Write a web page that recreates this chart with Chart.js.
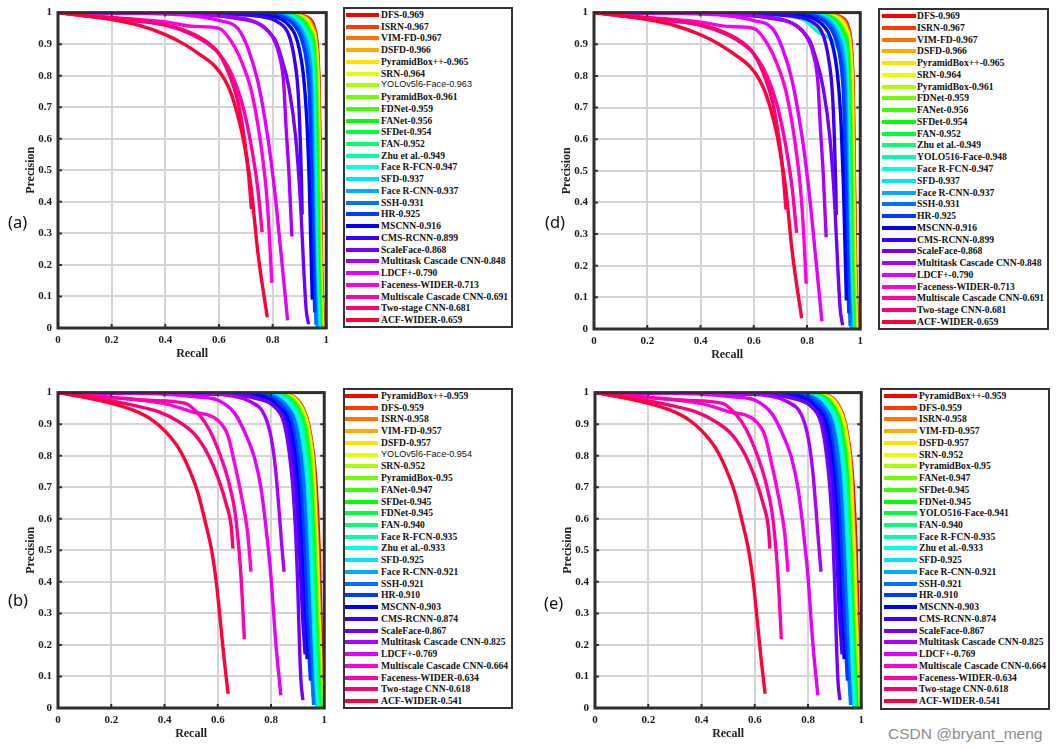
<!DOCTYPE html>
<html>
<head>
<meta charset="utf-8">
<script src="https://cdn.jsdelivr.net/npm/chart.js@4.4.0/dist/chart.umd.min.js"></script>
<style>
  body { margin: 0; background: #fff; width: 1060px; height: 749px; position: relative; overflow: hidden; }
  canvas { position: absolute; }
  .legend { position: absolute; box-sizing: border-box; border: 2.5px solid #333; background: #fff; }
  .sw { position: absolute; height: 4px; }
  .txt { position: absolute; height: 12px; line-height: 12px; white-space: nowrap; font: bold 9.6px "Liberation Serif", serif; color: #111; }
  .txt.sans { font: 9.1px "Liberation Sans", sans-serif; }
  .lab { position: absolute; font: 16.5px "Noto Sans", sans-serif; color: #111; line-height: 20px; }
  .mark { position: absolute; font: 15.5px "Liberation Sans", sans-serif; color: #8c8c8c; line-height: 18px; }
</style>
</head>
<body>
<canvas id="chartA" width="335" height="365" style="left:0px;top:0px"></canvas>
<canvas id="chartD" width="333" height="366" style="left:536px;top:0px"></canvas>
<canvas id="chartB" width="333" height="365" style="left:0px;top:380px"></canvas>
<canvas id="chartE" width="333" height="365" style="left:537px;top:380px"></canvas>
<div class="lab" style="left:8px;top:212px">(a)</div>
<div class="lab" style="left:545px;top:212px">(d)</div>
<div class="lab" style="left:8px;top:590px">(b)</div>
<div class="lab" style="left:544px;top:593px">(e)</div>
<div class="mark" style="left:888px;top:725px">CSDN @bryant_meng</div>
<script>
// tick labels
const xTickLabels = ['0', '0.2', '0.4', '0.6', '0.8', '1'];
const yTickLabels = ['0', '0.1', '0.2', '0.3', '0.4', '0.5', '0.6', '0.7', '0.8', '0.9', '1'];

// legend order + AP for each panel
const namesA = ['DFS', 'ISRN', 'VIM-FD', 'DSFD', 'PyramidBox++', 'SRN', 'YOLOv5l6-Face', 'PyramidBox', 'FDNet', 'FANet', 'SFDet', 'FAN', 'Zhu et al.', 'Face R-FCN', 'SFD', 'Face R-CNN', 'SSH', 'HR', 'MSCNN', 'CMS-RCNN', 'ScaleFace', 'Multitask Cascade CNN', 'LDCF+', 'Faceness-WIDER', 'Multiscale Cascade CNN', 'Two-stage CNN', 'ACF-WIDER'];
const apA = ['0.969', '0.967', '0.967', '0.966', '0.965', '0.964', '0.963', '0.961', '0.959', '0.956', '0.954', '0.952', '0.949', '0.947', '0.937', '0.937', '0.931', '0.925', '0.916', '0.899', '0.868', '0.848', '0.790', '0.713', '0.691', '0.681', '0.659'];

const namesD = ['DFS', 'ISRN', 'VIM-FD', 'DSFD', 'PyramidBox++', 'SRN', 'PyramidBox', 'FDNet', 'FANet', 'SFDet', 'FAN', 'Zhu et al.', 'YOLO516-Face', 'Face R-FCN', 'SFD', 'Face R-CNN', 'SSH', 'HR', 'MSCNN', 'CMS-RCNN', 'ScaleFace', 'Multitask Cascade CNN', 'LDCF+', 'Faceness-WIDER', 'Multiscale Cascade CNN', 'Two-stage CNN', 'ACF-WIDER'];
const apD = ['0.969', '0.967', '0.967', '0.966', '0.965', '0.964', '0.961', '0.959', '0.956', '0.954', '0.952', '0.949', '0.948', '0.947', '0.937', '0.937', '0.931', '0.925', '0.916', '0.899', '0.868', '0.848', '0.790', '0.713', '0.691', '0.681', '0.659'];

const namesB = ['PyramidBox++', 'DFS', 'ISRN', 'VIM-FD', 'DSFD', 'YOLOv5l6-Face', 'SRN', 'PyramidBox', 'FANet', 'SFDet', 'FDNet', 'FAN', 'Face R-FCN', 'Zhu et al.', 'SFD', 'Face R-CNN', 'SSH', 'HR', 'MSCNN', 'CMS-RCNN', 'ScaleFace', 'Multitask Cascade CNN', 'LDCF+', 'Multiscale Cascade CNN', 'Faceness-WIDER', 'Two-stage CNN', 'ACF-WIDER'];
const apB = ['0.959', '0.959', '0.958', '0.957', '0.957', '0.954', '0.952', '0.95', '0.947', '0.945', '0.945', '0.940', '0.935', '0.933', '0.925', '0.921', '0.921', '0.910', '0.903', '0.874', '0.867', '0.825', '0.769', '0.664', '0.634', '0.618', '0.541'];

const namesE = ['PyramidBox++', 'DFS', 'ISRN', 'VIM-FD', 'DSFD', 'SRN', 'PyramidBox', 'FANet', 'SFDet', 'FDNet', 'YOLO516-Face', 'FAN', 'Face R-FCN', 'Zhu et al.', 'SFD', 'Face R-CNN', 'SSH', 'HR', 'MSCNN', 'CMS-RCNN', 'ScaleFace', 'Multitask Cascade CNN', 'LDCF+', 'Multiscale Cascade CNN', 'Faceness-WIDER', 'Two-stage CNN', 'ACF-WIDER'];
const apE = ['0.959', '0.959', '0.958', '0.957', '0.957', '0.952', '0.95', '0.947', '0.945', '0.945', '0.941', '0.940', '0.935', '0.933', '0.925', '0.921', '0.921', '0.910', '0.903', '0.874', '0.867', '0.825', '0.769', '0.664', '0.634', '0.618', '0.541'];

// PR curves, [recall, precision]
// (a) and (d) use the easy-set curves, (b) and (e) the medium-set ones
const easyCurves = {
  'DFS': [[0,1],[0.85,0.997],[0.93,0.985],[0.955,0.955],[0.966,0.9],[0.974,0.75],[0.978,0.5],[0.983,0.2],[0.99,0]],
  'ISRN': [[0,1],[0.85,0.996],[0.928,0.984],[0.953,0.953],[0.965,0.9],[0.973,0.75],[0.977,0.5],[0.982,0.2],[0.989,0]],
  'VIM-FD': [[0,1],[0.85,0.996],[0.926,0.983],[0.951,0.951],[0.963,0.9],[0.972,0.75],[0.976,0.5],[0.981,0.2],[0.988,0]],
  'DSFD': [[0,1],[0.85,0.996],[0.924,0.982],[0.95,0.95],[0.962,0.9],[0.971,0.75],[0.975,0.5],[0.98,0.2],[0.987,0]],
  'PyramidBox++': [[0,1],[0.85,0.996],[0.922,0.981],[0.948,0.948],[0.961,0.9],[0.97,0.75],[0.974,0.5],[0.979,0.2],[0.986,0]],
  'SRN': [[0,1],[0.84,0.996],[0.92,0.98],[0.946,0.946],[0.96,0.9],[0.969,0.75],[0.973,0.5],[0.978,0.2],[0.985,0]],
  'YOLOv5l6-Face': [[0,1],[0.84,0.996],[0.918,0.979],[0.944,0.944],[0.958,0.9],[0.967,0.75],[0.972,0.5],[0.977,0.2],[0.984,0]],
  'YOLO516-Face': [[0,1],[0.6,0.998],[0.72,0.99],[0.79,0.976],[0.847,0.935],[0.884,0.92],[0.915,0.89],[0.935,0.84],[0.948,0.72],[0.955,0.5],[0.961,0.2],[0.97,0]],
  'PyramidBox': [[0,1],[0.84,0.995],[0.915,0.978],[0.942,0.942],[0.956,0.9],[0.965,0.75],[0.97,0.5],[0.975,0.2],[0.982,0]],
  'FDNet': [[0,1],[0.83,0.995],[0.912,0.977],[0.94,0.94],[0.954,0.9],[0.963,0.75],[0.968,0.5],[0.973,0.2],[0.98,0]],
  'FANet': [[0,1],[0.83,0.995],[0.91,0.976],[0.938,0.938],[0.952,0.9],[0.961,0.75],[0.966,0.5],[0.971,0.2],[0.978,0]],
  'SFDet': [[0,1],[0.82,0.995],[0.907,0.975],[0.936,0.936],[0.95,0.9],[0.959,0.75],[0.964,0.5],[0.969,0.2],[0.976,0]],
  'FAN': [[0,1],[0.82,0.995],[0.905,0.974],[0.934,0.934],[0.948,0.9],[0.957,0.75],[0.962,0.5],[0.967,0.2],[0.975,0]],
  'Zhu et al.': [[0,1],[0.81,0.994],[0.9,0.972],[0.93,0.93],[0.945,0.88],[0.954,0.75],[0.959,0.5],[0.965,0.2],[0.973,0]],
  'Face R-FCN': [[0,1],[0.81,0.994],[0.898,0.97],[0.928,0.928],[0.943,0.88],[0.952,0.75],[0.957,0.5],[0.963,0.2],[0.972,0]],
  'SFD': [[0,1],[0.8,0.994],[0.893,0.968],[0.924,0.924],[0.94,0.87],[0.949,0.75],[0.954,0.5],[0.96,0.2],[0.97,0]],
  'Face R-CNN': [[0,1],[0.8,0.993],[0.89,0.966],[0.92,0.92],[0.937,0.86],[0.946,0.75],[0.951,0.5],[0.957,0.2],[0.966,0]],
  'SSH': [[0,1],[0.79,0.993],[0.885,0.963],[0.915,0.915],[0.932,0.85],[0.942,0.75],[0.948,0.5],[0.955,0.2],[0.962,0.01]],
  'HR': [[0,1],[0.78,0.992],[0.88,0.96],[0.91,0.91],[0.927,0.84],[0.938,0.72],[0.945,0.5],[0.951,0.25],[0.957,0.049]],
  'MSCNN': [[0,1],[0.75,0.992],[0.86,0.96],[0.895,0.9],[0.915,0.8],[0.928,0.65],[0.937,0.45],[0.943,0.25],[0.948,0.09]],
  'CMS-RCNN': [[0,1],[0.6,0.996],[0.75,0.988],[0.82,0.97],[0.86,0.93],[0.88,0.86],[0.895,0.75],[0.903,0.6],[0.908,0.45],[0.91,0.36]],
  'ScaleFace': [[0,1],[0.4,0.998],[0.647,0.984],[0.807,0.917],[0.83,0.865],[0.861,0.761],[0.886,0.605],[0.904,0.398],[0.916,0.19],[0.925,0.06],[0.934,0.012]],
  'Multitask Cascade CNN': [[0,1],[0.4,0.998],[0.6,0.99],[0.72,0.975],[0.78,0.945],[0.81,0.905],[0.825,0.865],[0.841,0.78],[0.85,0.64],[0.861,0.49],[0.867,0.38],[0.872,0.29]],
  'LDCF+': [[0,1],[0.3,0.998],[0.5,0.99],[0.6,0.975],[0.672,0.948],[0.708,0.887],[0.745,0.782],[0.782,0.605],[0.807,0.44],[0.832,0.232],[0.856,0.024]],
  'Faceness-WIDER': [[0,1],[0.2,0.985],[0.4,0.97],[0.51,0.956],[0.6,0.95],[0.647,0.907],[0.684,0.845],[0.721,0.751],[0.752,0.607],[0.776,0.44],[0.788,0.295],[0.797,0.143]],
  'Multiscale Cascade CNN': [[0,1],[0.2,0.98],[0.4,0.96],[0.5,0.93],[0.56,0.9],[0.6,0.87],[0.65,0.8],[0.69,0.7],[0.72,0.58],[0.745,0.44],[0.761,0.304]],
  'Two-stage CNN': [[0,1],[0.1,0.99],[0.3,0.975],[0.45,0.95],[0.55,0.91],[0.6,0.87],[0.64,0.8],[0.67,0.72],[0.695,0.6],[0.71,0.49],[0.721,0.377]],
  'ACF-WIDER': [[0,1],[0.1,0.99],[0.2,0.978],[0.3,0.96],[0.4,0.93],[0.47,0.9],[0.524,0.87],[0.585,0.83],[0.62,0.79],[0.647,0.74],[0.684,0.626],[0.705,0.53],[0.721,0.438],[0.745,0.24],[0.78,0.034]]
};

const mediumCurves = {
  'PyramidBox++': [[0,1],[0.755,0.997],[0.875,0.99],[0.921,0.95],[0.941,0.9],[0.96,0.8],[0.97,0.7],[0.981,0.5],[0.987,0.3],[0.993,0.1],[0.998,0]],
  'DFS': [[0,1],[0.754,0.997],[0.874,0.99],[0.92,0.95],[0.94,0.9],[0.958,0.8],[0.966,0.7],[0.976,0.5],[0.983,0.3],[0.991,0.1],[0.998,0]],
  'ISRN': [[0,1],[0.752,0.997],[0.872,0.99],[0.919,0.95],[0.939,0.9],[0.957,0.8],[0.965,0.7],[0.975,0.5],[0.982,0.3],[0.99,0.1],[0.997,0]],
  'VIM-FD': [[0,1],[0.75,0.997],[0.87,0.99],[0.917,0.95],[0.938,0.9],[0.956,0.8],[0.964,0.7],[0.974,0.5],[0.981,0.3],[0.989,0.1],[0.996,0]],
  'DSFD': [[0,1],[0.749,0.997],[0.869,0.99],[0.916,0.95],[0.937,0.9],[0.955,0.8],[0.963,0.7],[0.973,0.5],[0.98,0.3],[0.988,0.1],[0.995,0]],
  'YOLOv5l6-Face': [[0,1],[0.745,0.997],[0.865,0.99],[0.913,0.95],[0.934,0.9],[0.952,0.8],[0.961,0.7],[0.971,0.5],[0.978,0.3],[0.986,0.1],[0.993,0]],
  'SRN': [[0,1],[0.741,0.997],[0.861,0.99],[0.91,0.95],[0.932,0.9],[0.95,0.8],[0.958,0.7],[0.969,0.5],[0.976,0.3],[0.985,0.1],[0.991,0]],
  'PyramidBox': [[0,1],[0.737,0.997],[0.857,0.99],[0.907,0.95],[0.929,0.9],[0.948,0.8],[0.956,0.7],[0.967,0.5],[0.974,0.3],[0.983,0.1],[0.989,0]],
  'FANet': [[0,1],[0.731,0.997],[0.851,0.99],[0.903,0.95],[0.925,0.9],[0.944,0.8],[0.953,0.7],[0.963,0.5],[0.971,0.3],[0.98,0.1],[0.986,0]],
  'SFDet': [[0,1],[0.727,0.997],[0.847,0.99],[0.9,0.95],[0.923,0.9],[0.941,0.8],[0.95,0.7],[0.961,0.5],[0.969,0.3],[0.978,0.1],[0.984,0]],
  'FDNet': [[0,1],[0.726,0.997],[0.846,0.99],[0.899,0.95],[0.922,0.9],[0.94,0.8],[0.949,0.7],[0.96,0.5],[0.968,0.3],[0.977,0.1],[0.983,0]],
  'YOLO516-Face': [[0,1],[0.62,0.997],[0.74,0.985],[0.8,0.965],[0.85,0.945],[0.895,0.9],[0.925,0.8],[0.941,0.7],[0.955,0.5],[0.964,0.3],[0.973,0.1],[0.98,0]],
  'FAN': [[0,1],[0.717,0.997],[0.837,0.99],[0.893,0.95],[0.917,0.9],[0.935,0.8],[0.945,0.7],[0.956,0.5],[0.964,0.3],[0.973,0.1],[0.979,0]],
  'Face R-FCN': [[0,1],[0.708,0.997],[0.828,0.99],[0.886,0.95],[0.911,0.9],[0.93,0.8],[0.94,0.7],[0.951,0.5],[0.959,0.3],[0.968,0.1],[0.974,0]],
  'Zhu et al.': [[0,1],[0.704,0.997],[0.824,0.99],[0.883,0.95],[0.908,0.9],[0.927,0.8],[0.937,0.7],[0.949,0.5],[0.958,0.3],[0.967,0.1],[0.972,0]],
  'SFD': [[0,1],[0.689,0.997],[0.809,0.99],[0.872,0.95],[0.899,0.9],[0.918,0.8],[0.929,0.7],[0.941,0.5],[0.95,0.3],[0.959,0.1],[0.967,0.01]],
  'Face R-CNN': [[0,1],[0.681,0.997],[0.801,0.99],[0.865,0.95],[0.893,0.9],[0.913,0.8],[0.924,0.7],[0.936,0.5],[0.946,0.3],[0.955,0.1],[0.962,0.01]],
  'SSH': [[0,1],[0.68,0.997],[0.8,0.99],[0.864,0.95],[0.892,0.9],[0.912,0.8],[0.923,0.7],[0.935,0.5],[0.945,0.3],[0.954,0.1],[0.96,0.01]],
  'HR': [[0,1],[0.66,0.997],[0.78,0.99],[0.85,0.95],[0.88,0.9],[0.9,0.8],[0.912,0.7],[0.925,0.5],[0.935,0.3],[0.948,0.087]],
  'MSCNN': [[0,1],[0.64,0.997],[0.76,0.99],[0.835,0.95],[0.87,0.9],[0.89,0.8],[0.902,0.7],[0.915,0.5],[0.925,0.3],[0.936,0.155]],
  'CMS-RCNN': [[0,1],[0.6,0.997],[0.72,0.99],[0.82,0.95],[0.86,0.9],[0.88,0.8],[0.893,0.7],[0.907,0.5],[0.918,0.3],[0.928,0.17]],
  'ScaleFace': [[0,1],[0.6,0.995],[0.75,0.98],[0.82,0.95],[0.85,0.9],[0.87,0.8],[0.882,0.7],[0.893,0.55],[0.9,0.4],[0.907,0.2],[0.913,0.08],[0.92,0.025]],
  'Multitask Cascade CNN': [[0,1],[0.5,0.997],[0.65,0.99],[0.725,0.97],[0.775,0.93],[0.8,0.86],[0.818,0.75],[0.83,0.63],[0.84,0.52],[0.849,0.432]],
  'LDCF+': [[0,1],[0.4,0.995],[0.527,0.986],[0.601,0.976],[0.663,0.935],[0.7,0.877],[0.738,0.793],[0.762,0.699],[0.781,0.573],[0.8,0.416],[0.818,0.207],[0.837,0.04]],
  'Multiscale Cascade CNN': [[0,1],[0.2,0.985],[0.4,0.965],[0.5,0.94],[0.6,0.912],[0.638,0.864],[0.662,0.78],[0.687,0.68],[0.712,0.558],[0.725,0.432]],
  'Faceness-WIDER': [[0,1],[0.2,0.985],[0.35,0.975],[0.478,0.966],[0.53,0.93],[0.57,0.88],[0.61,0.8],[0.64,0.72],[0.665,0.62],[0.68,0.5],[0.69,0.38],[0.7,0.218]],
  'Two-stage CNN': [[0,1],[0.156,0.981],[0.28,0.96],[0.379,0.939],[0.453,0.908],[0.515,0.866],[0.564,0.803],[0.601,0.73],[0.632,0.646],[0.651,0.573],[0.657,0.505]],
  'ACF-WIDER': [[0,1],[0.156,0.975],[0.28,0.945],[0.354,0.913],[0.403,0.877],[0.453,0.824],[0.49,0.762],[0.527,0.678],[0.552,0.594],[0.577,0.5],[0.595,0.395],[0.608,0.29],[0.624,0.155],[0.639,0.045]]
};

// colour goes round the hue wheel by legend position (matlab hsv style)
function colorAt(i) {
  return 'hsl(' + (i * 360 / 27).toFixed(1) + ', 100%, 50%)';
}

// dark box + small inward ticks, drawn on top of the curves
const framePlugin = {
  id: 'frame',
  afterDatasetsDraw(chart) {
    const ctx = chart.ctx;
    const a = chart.chartArea;
    const sx = chart.scales.x, sy = chart.scales.y;
    ctx.save();
    ctx.strokeStyle = '#2f2f2f';
    ctx.lineWidth = 2;
    ctx.beginPath();
    sx.ticks.forEach(t => {
      const px = sx.getPixelForValue(t.value);
      ctx.moveTo(px, a.bottom); ctx.lineTo(px, a.bottom - 4);
      ctx.moveTo(px, a.top); ctx.lineTo(px, a.top + 4);
    });
    sy.ticks.forEach(t => {
      const py = sy.getPixelForValue(t.value);
      ctx.moveTo(a.left, py); ctx.lineTo(a.left + 4, py);
      ctx.moveTo(a.right, py); ctx.lineTo(a.right - 4, py);
    });
    ctx.stroke();
    ctx.lineWidth = 3;
    ctx.strokeRect(a.left, a.top, a.right - a.left, a.bottom - a.top);
    ctx.restore();
  }
};

const tickFont = { family: '"Liberation Serif", serif', size: 11, weight: 'bold' };
const titleFont = { family: '"Liberation Serif", serif', size: 12, weight: 'bold' };

function makePanel(id, names, aps, curves, padTop) {
  const datasets = names.map((n, i) => ({
    label: n + '-' + aps[i],
    data: curves[n].map(p => ({ x: p[0], y: p[1] })),
    borderColor: colorAt(i),
    backgroundColor: colorAt(i),
    borderWidth: 3.4,
    pointRadius: 0,
    fill: false,
    cubicInterpolationMode: 'monotone',
    order: -i
  }));

  new Chart(document.getElementById(id), {
    type: 'line',
    data: { datasets: datasets },
    options: {
      responsive: false,
      animation: false,
      events: [],
      layout: { padding: { top: padTop, right: 6, left: 0, bottom: 0 } },
      plugins: { legend: { display: false }, tooltip: { enabled: false } },
      scales: {
        x: {
          type: 'linear', min: 0, max: 1,
          ticks: { stepSize: 0.2, autoSkip: false, maxRotation: 0, padding: 6, color: '#1a1a1a', font: tickFont,
                   callback: v => xTickLabels[Math.round(v / 0.2)] },
          grid: { color: '#d4d4d4', lineWidth: 2, drawTicks: false },
          border: { display: false },
          title: { display: true, text: 'Recall', color: '#222', font: titleFont, padding: { top: 0, bottom: 4 } },
          afterFit: s => { s.height = 37; }
        },
        y: {
          type: 'linear', min: 0, max: 1,
          ticks: { stepSize: 0.1, autoSkip: false, padding: 6, color: '#1a1a1a', font: tickFont,
                   callback: v => yTickLabels[Math.round(v / 0.1)] },
          grid: { color: '#d4d4d4', lineWidth: 2, drawTicks: false },
          border: { display: false },
          title: { display: true, text: 'Precision', color: '#222', font: titleFont, padding: { top: 24, bottom: 0 } },
          afterFit: s => { s.width = 58; }
        }
      }
    },
    plugins: [framePlugin]
  });
}

// html legend box next to each plot
function makeLegend(names, aps, box) {
  const div = document.createElement('div');
  div.className = 'legend';
  div.style.left = box.left + 'px';
  div.style.top = box.top + 'px';
  div.style.width = box.w + 'px';
  div.style.height = box.h + 'px';
  document.body.appendChild(div);

  names.forEach((n, i) => {
    const cy = box.firstY + i * box.step;
    const sw = document.createElement('div');
    sw.className = 'sw';
    sw.style.left = box.swL + 'px';
    sw.style.width = box.swW + 'px';
    sw.style.top = (cy - 2) + 'px';
    sw.style.background = colorAt(i);
    document.body.appendChild(sw);

    const t = document.createElement('div');
    t.className = n.startsWith('YOLOv5l6') ? 'txt sans' : 'txt';
    t.style.left = box.txtL + 'px';
    t.style.top = (cy - 6) + 'px';
    t.textContent = n + '-' + aps[i];
    document.body.appendChild(t);
  });
}

makePanel('chartA', namesA, apA, easyCurves, 7);
makePanel('chartD', namesD, apD, easyCurves, 9);
makePanel('chartB', namesB, apB, mediumCurves, 9);
makePanel('chartE', namesE, apE, mediumCurves, 9);

makeLegend(namesA, apA, { left: 343, top: 7, w: 170, h: 321, swL: 346, swW: 33, txtL: 381, firstY: 15, step: 11.73 });
makeLegend(namesD, apD, { left: 878, top: 8, w: 171, h: 322, swL: 882, swW: 34, txtL: 917, firstY: 16, step: 11.77 });
makeLegend(namesB, apB, { left: 343, top: 388, w: 170, h: 321, swL: 345, swW: 33, txtL: 381, firstY: 396, step: 11.73 });
makeLegend(namesE, apE, { left: 880, top: 388, w: 170, h: 322, swL: 884, swW: 33, txtL: 919, firstY: 396, step: 11.73 });
</script>
</body>
</html>
